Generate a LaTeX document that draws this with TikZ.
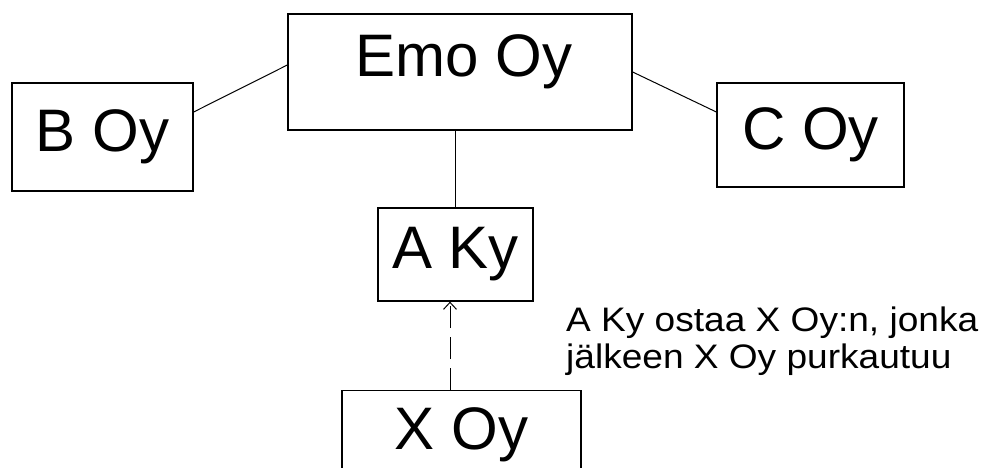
\documentclass[tikz,border=0pt]{standalone}
\usepackage{fontspec}
\setmainfont{Liberation Sans}
\newfontfamily\notefont[FakeStretch=1.09]{Liberation Sans}
\usetikzlibrary{arrows.meta}

\begin{document}
\begin{tikzpicture}[x=1pt,y=-1pt,>={Straight Barb[length=7pt,width=13pt]},
  firm/.style={draw,line width=1.3pt,inner sep=0pt,font=\fontsize{60}{66}\selectfont},
  link/.style={line width=1pt},
  note/.style={inner sep=0pt,align=left,font=\notefont\fontsize{34}{37}\selectfont}]
 % ---- page ----
 \clip (0,0) rectangle (983,468);
 \fill[white] (0,0) rectangle (983,468);
 % ---- company boxes ----
 \node[firm,minimum width=344pt,minimum height=116pt,text depth=32pt] (emo) at (460,72) {\hspace*{8pt}Emo Oy};
 \foreach \n/\x/\y/\w/\h/\lab in {b/102.5/137/181/108/B Oy, c/810.5/135/187/104/C Oy, a/455.5/254.5/155/93/A Ky}
   \node[firm,minimum width=\w pt,minimum height=\h pt] (\n) at (\x,\y) {\lab};
 \node[firm,anchor=north,minimum width=239pt,minimum height=88pt] (x) at (461.5,390) {X Oy};
 % ---- ownership lines ----
 \draw[link] ([yshift=7pt]emo.west) -- ([yshift=25pt]b.east);
 \draw[link] (emo.east) -- ([yshift=23pt]c.west);
 \draw[link] (emo.south -| a.north) -- (a.north);
 % ---- merger: X Oy into A Ky ----
 \draw[link,dash pattern=on 22pt off 9pt,->] ([xshift=-5.5pt]a.south |- x.north) -- ([xshift=-5.5pt]a.south);
 \node[note,anchor=north west] (txt) at (566,307) {A Ky ostaa X Oy:n, jonka\\jälkeen X Oy purkautuu};
\end{tikzpicture}
\end{document}
